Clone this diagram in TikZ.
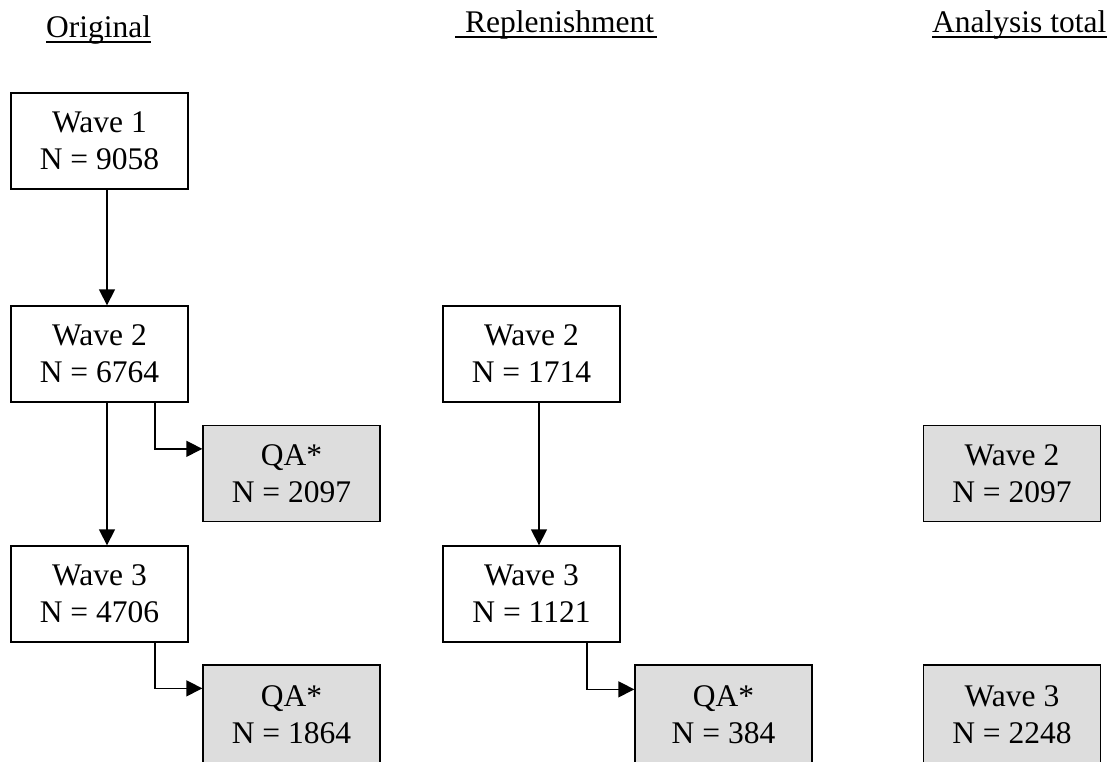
\documentclass[tikz,border=0pt]{standalone}
\usepackage{fontspec}
\setmainfont{Liberation Serif}
\usetikzlibrary{arrows.meta,calc}
\definecolor{boxgray}{RGB}{221,221,221}
\begin{document}
\begin{tikzpicture}[x=1pt,y=-1pt,
  box/.style={draw=black, line width=1.3pt, minimum width=177pt, minimum height=96pt, inner sep=0pt, align=center, font=\fontsize{31.5}{37}\selectfont},
  qbox/.style={box, fill=boxgray},
  cutbox/.style={qbox, minimum height=99pt},
  head/.style={inner sep=0pt, anchor=base west, font=\fontsize{31.5}{37}\selectfont},
  arr/.style={line width=1.3pt, -{Triangle[length=16pt,width=16pt]}},
  uline/.style={line width=1.5pt}]
\useasboundingbox (0,0) rectangle (1120,761);
% headers
\node[head] (orig) at (46,37.5) {Original};
\draw[uline] ($(orig.base west)+(0,4.5)$) -- ($(orig.base east)+(0,4.5)$);
\node[head] (rep) at (465,32.5) {Replenishment};
\draw[uline] ($(rep.base west)+(-10,4.5)$) -- ($(rep.base east)+(3,4.5)$);
\node[head] (ana) at (932,32.5) {Analysis total};
\draw[uline] ($(ana.base west)+(0,4.5)$) -- ($(ana.base east)+(0,4.5)$);
% original column
\node[box] (w1) at (99.5,141) {Wave 1\\N = 9058};
\node[box] (w2) at (99.5,354) {Wave 2\\N = 6764};
\node[box] (w3) at (99.5,594) {Wave 3\\N = 4706};
\node[qbox] (qa2) at (291.5,473.5) {QA*\\N = 2097};
\node[cutbox] (qa3) at (291.5,714.5) {QA*\\N = 1864};
% replenishment column
\node[box] (rw2) at (531.5,354) {Wave 2\\N = 1714};
\node[box] (rw3) at (531.5,594) {Wave 3\\N = 1121};
\node[cutbox] (rqa3) at (723.5,714.5) {QA*\\N = 384};
% analysis total column
\node[qbox] (aw2) at (1012,473.5) {Wave 2\\N = 2097};
\node[cutbox] (aw3) at (1012,714.5) {Wave 3\\N = 2248};
% connectors
\draw[arr] ([xshift=7.5pt]w1.south) -- ([xshift=7.5pt]w2.north);
\draw[arr] ([xshift=7.5pt]w2.south) -- ([xshift=7.5pt]w3.north);
\draw[arr] ([xshift=55.5pt]w2.south) |- ([yshift=-24pt]qa2.north west);
\draw[arr] ([xshift=55.5pt]w3.south) |- ([yshift=-24pt]qa3.north west);
\draw[arr] ([xshift=7.5pt]rw2.south) -- ([xshift=7.5pt]rw3.north);
\draw[arr] ([xshift=55.5pt]rw3.south) |- ([yshift=-25pt]rqa3.north west);
\end{tikzpicture}
\end{document}
